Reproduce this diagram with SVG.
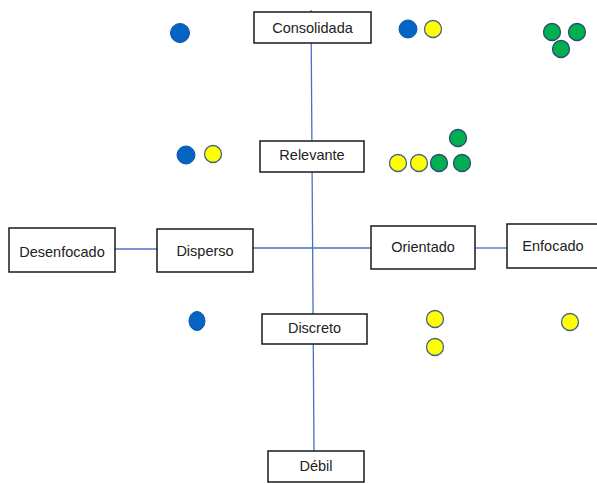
<svg xmlns="http://www.w3.org/2000/svg" width="597" height="484" viewBox="0 0 597 484">
  <style>
    .axis { stroke: #4472C4; stroke-width: 1.3; fill: none; }
    .box { fill: #ffffff; stroke: #1a1a1a; stroke-width: 1.5; }
    .lbl { font-family: "Liberation Sans", Arial, sans-serif; font-size: 14.5px; fill: #222; text-anchor: middle; }
    .blue { fill: #0563C1; stroke: #0A55A8; stroke-width: 1; }
    .yellow { fill: #FFFF00; stroke: #44618A; stroke-width: 1.3; }
    .green { fill: #00B050; stroke: #2E4A70; stroke-width: 1.3; }
  </style>
  <rect width="597" height="484" fill="#ffffff"/>

  <!-- axes -->
  <g id="connectors">
    <line class="axis" x1="311" y1="10" x2="314" y2="451"/>
    <line class="axis" x1="115" y1="249" x2="157" y2="249"/>
    <line class="axis" x1="253" y1="248" x2="371" y2="248"/>
    <line class="axis" x1="475" y1="248" x2="507" y2="248"/>
  </g>

  <!-- labelled boxes -->
  <g id="consolidada">
    <rect class="box" x="254" y="12" width="117" height="31"/>
    <text class="lbl" x="312.5" y="33">Consolidada</text>
  </g>
  <g id="relevante">
    <rect class="box" x="260" y="141" width="104" height="31"/>
    <text class="lbl" x="312" y="160">Relevante</text>
  </g>
  <g id="desenfocado">
    <rect class="box" x="9" y="228" width="106" height="44"/>
    <text class="lbl" x="62" y="257">Desenfocado</text>
  </g>
  <g id="disperso">
    <rect class="box" x="157" y="229" width="96" height="43"/>
    <text class="lbl" x="205" y="256">Disperso</text>
  </g>
  <g id="orientado">
    <rect class="box" x="371" y="226" width="104" height="43"/>
    <text class="lbl" x="423" y="252">Orientado</text>
  </g>
  <g id="enfocado">
    <rect class="box" x="507" y="224" width="100" height="44"/>
    <text class="lbl" x="553" y="251">Enfocado</text>
  </g>
  <g id="discreto">
    <rect class="box" x="262" y="314" width="105" height="30"/>
    <text class="lbl" x="314.5" y="333">Discreto</text>
  </g>
  <g id="debil">
    <rect class="box" x="268" y="451" width="96" height="31"/>
    <text class="lbl" x="316" y="471">Débil</text>
  </g>

  <!-- markers -->
  <g id="dots">
    <circle class="blue" cx="180" cy="33" r="9.5"/>
    <circle class="blue" cx="408" cy="29" r="9"/>
    <circle class="yellow" cx="433" cy="29" r="8.5"/>
    <circle class="green" cx="552" cy="32" r="8.5"/>
    <circle class="green" cx="577" cy="32" r="8.5"/>
    <circle class="green" cx="561" cy="49" r="8.5"/>

    <circle class="blue" cx="186" cy="155" r="9"/>
    <circle class="yellow" cx="213" cy="154" r="8.5"/>
    <circle class="green" cx="458" cy="138" r="8.5"/>
    <circle class="yellow" cx="398" cy="163" r="8.5"/>
    <circle class="yellow" cx="419" cy="163" r="8.5"/>
    <circle class="green" cx="439" cy="163" r="8.5"/>
    <circle class="green" cx="462" cy="163" r="8.5"/>

    <ellipse class="blue" cx="197" cy="321" rx="8" ry="9.5"/>
    <circle class="yellow" cx="435" cy="319" r="8.5"/>
    <circle class="yellow" cx="435" cy="347" r="8.5"/>
    <circle class="yellow" cx="570" cy="322" r="8.5"/>
  </g>
</svg>
